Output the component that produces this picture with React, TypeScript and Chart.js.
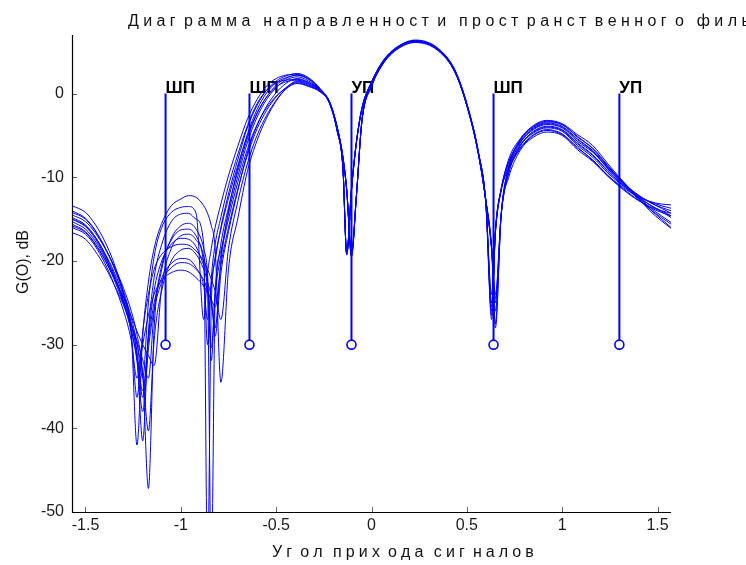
import React, { useEffect, useRef } from 'react';
import { Chart, registerables } from 'chart.js';

Chart.register(...registerables);

// Angle grid (rad) shared by every pattern curve
const ANGLES = [
  -1.571, -1.5, -1.45, -1.4, -1.35, -1.3, -1.26, -1.23, -1.2, -1.17, -1.14,
  -1.1, -1.05, -1.0, -0.96, -0.92, -0.88, -0.86, -0.84, -0.82, -0.79,
  -0.75, -0.7, -0.65, -0.6, -0.55, -0.5, -0.45, -0.39, -0.33, -0.27,
  -0.22, -0.18, -0.15, -0.13, -0.105, -0.08, -0.05, 0.0, 0.06, 0.13,
  0.23, 0.35, 0.44, 0.51, 0.56, 0.6, 0.63, 0.65, 0.68, 0.72,
  0.78, 0.85, 0.92, 1.0, 1.08, 1.16, 1.24, 1.3, 1.38, 1.46,
  1.52, 1.571,
];

// Gain (dB) of each realisation of the pattern
const G1 = [
  -13.4, -14.2, -15.6, -17.6, -20.3, -24.0, -28.5, -42.0, -29.0, -22.5, -18.5,
  -15.5, -13.4, -12.6, -12.2, -12.4, -13.4, -14.3, -15.8, -18.5, -34.5,
  -21.0, -14.8, -9.2, -5.6, -2.9, -0.9, 0.5, 1.3, 0.9, 0.25,
  -1.1, -4.4, -8.8, -19.2, -11.5, -6.0, -1.8, 1.3, 3.8, 5.4,
  6.3, 5.3, 2.6, -2.1, -7.0, -13.2, -24.0, -16.5, -11.5, -7.8,
  -5.4, -3.8, -3.2, -3.6, -4.9, -6.2, -8.4, -10.0, -12.0, -14.0,
  -15.2, -16.1,
];
const G2 = [
  -14.0, -14.9, -16.3, -18.3, -20.8, -24.0, -27.5, -31.5, -41.5, -28.5, -22.0,
  -18.0, -15.3, -14.4, -14.3, -15.0, -18.0, -57.0, -25.0, -20.0, -16.0,
  -12.0, -7.8, -4.0, -1.4, 0.4, 1.5, 2.1, 2.4, 1.9, 0.6,
  -1.0, -4.0, -7.6, -11.5, -19.4, -12.5, -3.2, 0.9, 3.6, 5.3,
  6.2, 5.2, 2.5, -2.2, -7.1, -12.8, -18.5, -28.0, -14.5, -8.8,
  -5.6, -4.0, -3.4, -3.7, -5.2, -6.5, -8.6, -10.1, -11.9, -13.6,
  -14.6, -15.4,
];
const G3 = [
  -14.5, -15.3, -16.6, -18.4, -20.6, -23.3, -26.0, -28.8, -33.5, -47.2, -28.0,
  -21.0, -17.3, -15.8, -15.5, -16.2, -18.5, -21.5, -31.9, -23.5, -18.0,
  -13.6, -9.2, -5.3, -2.4, -0.4, 1.0, 1.8, 2.2, 1.7, 0.55,
  -1.1, -4.5, -8.9, -19.0, -11.4, -5.9, -1.7, 1.4, 3.9, 5.5,
  6.3, 5.3, 2.7, -2.0, -6.9, -13.1, -26.0, -16.3, -11.4, -8.1,
  -5.7, -4.1, -3.5, -3.9, -5.4, -6.8, -8.8, -10.2, -11.9, -13.3,
  -14.1, -14.8,
];
const G4 = [
  -15.0, -15.8, -17.1, -19.0, -21.3, -24.3, -27.6, -30.8, -36.3, -29.0, -23.5,
  -20.0, -18.0, -17.3, -17.4, -18.3, -20.5, -23.5, -57.0, -24.5, -18.8,
  -14.3, -9.8, -5.8, -2.8, -0.7, 0.7, 1.6, 2.0, 1.5, 0.5,
  -1.0, -4.1, -7.7, -11.6, -19.0, -12.4, -3.3, 0.9, 3.6, 5.3,
  6.2, 5.2, 2.5, -2.2, -7.1, -12.9, -18.6, -25.0, -14.4, -9.1,
  -5.9, -4.3, -3.7, -4.1, -5.7, -7.0, -8.9, -10.3, -11.8, -13.0,
  -13.7, -14.3,
];
const G5 = [
  -15.3, -16.2, -17.6, -19.5, -21.9, -24.8, -27.5, -30.0, -33.5, -40.3, -29.5,
  -23.5, -20.0, -18.7, -18.5, -19.2, -21.0, -22.5, -24.5, -29.0, -21.5,
  -16.5, -11.5, -7.0, -3.8, -1.5, 0.1, 1.2, 1.8, 1.35, 0.45,
  -1.2, -4.4, -8.8, -19.1, -11.6, -6.1, -1.9, 1.2, 3.7, 5.4,
  6.3, 5.3, 2.6, -2.1, -7.0, -13.3, -27.0, -16.6, -11.6, -8.5,
  -6.1, -4.5, -3.9, -4.3, -5.9, -7.3, -9.2, -10.5, -11.9, -13.0,
  -13.6, -14.0,
];
const G6 = [
  -15.6, -16.5, -17.9, -19.8, -22.2, -25.2, -28.3, -31.5, -35.5, -29.5, -25.0,
  -22.0, -20.3, -19.7, -19.8, -20.8, -23.0, -27.0, -22.8, -19.5, -16.2,
  -12.5, -8.5, -5.0, -2.3, -0.4, 0.8, 1.4, 1.6, 1.2, 0.4,
  -1.0, -4.0, -7.5, -11.4, -19.2, -12.6, -3.2, 0.9, 3.6, 5.3,
  6.2, 5.2, 2.5, -2.2, -7.1, -12.8, -18.4, -24.5, -14.6, -9.5,
  -6.3, -4.7, -4.1, -4.5, -6.2, -7.6, -9.5, -10.7, -12.0, -12.9,
  -13.4, -13.7,
];
const G7 = [
  -16.0, -16.8, -18.2, -20.2, -22.8, -26.0, -29.5, -34.0, -30.0, -26.5, -24.0,
  -22.3, -21.4, -21.1, -21.3, -22.0, -23.0, -23.8, -24.6, -25.5, -20.5,
  -16.0, -11.3, -7.3, -4.2, -2.0, -0.4, 0.7, 1.4, 1.0, 0.3,
  -1.2, -4.5, -8.9, -19.3, -11.5, -6.0, -1.8, 1.3, 3.8, 5.4,
  6.3, 5.3, 2.6, -2.1, -7.0, -13.2, -26.5, -16.5, -11.5, -8.9,
  -6.5, -4.9, -4.3, -4.8, -6.5, -7.9, -9.8, -10.9, -12.1, -12.9,
  -13.2, -13.3,
];
const G8 = [
  -16.6, -17.4, -18.8, -20.6, -22.8, -25.3, -27.6, -29.6, -31.8, -34.0, -26.0,
  -20.5, -17.5, -16.3, -16.2, -17.0, -19.5, -22.5, -30.4, -24.0, -19.3,
  -15.0, -10.5, -6.6, -3.7, -1.7, -0.3, 0.6, 1.2, 0.85, 0.2,
  -1.1, -4.1, -7.6, -11.5, -19.0, -12.4, -3.1, 1.0, 3.7, 5.3,
  6.2, 5.2, 2.5, -2.2, -7.1, -12.8, -18.5, -27.5, -14.5, -10.0,
  -6.8, -5.2, -4.6, -5.0, -6.7, -8.1, -9.9, -11.1, -12.5, -13.5,
  -14.0, -14.3,
];
const G9 = [
  -14.8, -15.7, -17.1, -19.1, -21.6, -24.8, -28.2, -32.0, -38.0, -30.5, -25.8,
  -22.5, -20.8, -20.2, -20.3, -21.0, -22.3, -23.5, -25.0, -28.0, -20.0,
  -14.0, -8.8, -4.8, -1.9, 0.1, 1.3, 1.9, 2.2, 1.7, 0.55,
  -1.1, -4.3, -8.7, -19.0, -11.4, -5.9, -1.7, 1.4, 3.9, 5.5,
  6.4, 5.4, 2.7, -2.0, -6.9, -13.1, -25.5, -16.4, -11.4, -8.2,
  -5.8, -4.2, -3.6, -4.0, -5.5, -6.9, -9.0, -10.4, -12.2, -13.8,
  -14.8, -15.6,
];
const G10 = [
  -15.8, -16.6, -18.0, -19.8, -22.0, -24.5, -26.6, -28.4, -30.0, -31.3, -32.5,
  -23.0, -18.5, -17.0, -16.8, -17.5, -20.5, -30.0, -22.0, -18.0, -14.8,
  -11.0, -7.2, -3.8, -1.2, 0.4, 1.3, 1.6, 1.7, 1.3, 0.45,
  -1.0, -4.1, -7.7, -11.6, -19.5, -12.6, -3.3, 0.8, 3.5, 5.2,
  6.1, 5.1, 2.4, -2.3, -7.2, -12.9, -18.6, -26.0, -14.6, -9.4,
  -6.2, -4.6, -4.0, -4.4, -6.0, -7.4, -9.3, -10.6, -12.1, -13.3,
  -14.0, -14.6,
];
const G11 = [
  -14.2, -15.0, -16.4, -18.3, -20.7, -23.7, -26.8, -29.8, -34.0, -25.0, -19.5,
  -16.0, -14.2, -13.6, -13.5, -14.3, -27.0, -21.5, -18.5, -16.0, -13.2,
  -9.8, -6.2, -3.0, -0.7, 0.9, 1.8, 2.2, 2.3, 1.8, 0.6,
  -1.1, -4.4, -8.9, -19.1, -11.5, -6.0, -1.8, 1.3, 3.8, 5.4,
  6.3, 5.3, 2.6, -2.1, -7.0, -12.8, -18.4, -24.0, -14.4, -8.7,
  -5.5, -3.9, -3.3, -3.7, -5.1, -6.6, -8.7, -10.2, -12.0, -13.8,
  -15.0, -16.0,
];
const G12 = [
  -15.0, -15.9, -17.3, -19.3, -21.9, -25.0, -28.8, -36.3, -28.5, -24.0, -21.0,
  -19.2, -18.3, -18.0, -18.1, -18.8, -20.0, -21.0, -22.2, -23.6, -27.0,
  -18.5, -12.8, -8.3, -5.0, -2.6, -0.8, 0.6, 1.5, 1.1, 0.35,
  -1.0, -4.0, -7.6, -11.5, -19.3, -12.5, -3.2, 0.9, 3.6, 5.3,
  6.2, 5.2, 2.5, -2.2, -7.1, -13.2, -25.0, -16.5, -11.5, -9.0,
  -6.6, -5.0, -4.4, -4.9, -6.4, -8.0, -9.8, -11.0, -12.4, -13.6,
  -14.2, -14.6,
];
const CURVES = [G1, G2, G3, G4, G5, G6, G7, G8, G9, G10, G11, G12];

// Signal directions (stems)
const STEM_X = [-1.08, -0.64, -0.105, 0.64, 1.3];
const STEM_LABELS = ['ШП', 'ШП', 'УП', 'ШП', 'УП'];
const STEM_TOP = 0;
const STEM_BOTTOM = -30;

const X_TICKS = [-1.5, -1, -0.5, 0, 0.5, 1, 1.5];
const Y_TICKS = [-50, -40, -30, -20, -10, 0];
const X_MIN = -Math.PI / 2;
const X_MAX = Math.PI / 2;
const Y_MIN = -50;
const Y_MAX = 7;

const TITLE = 'Диаграмма направленности пространственного фильтра';
const X_TITLE = 'Угол прихода сигналов';
const Y_TITLE = 'G(O), dB';

const FONT = '"Liberation Sans", Arial, Helvetica, sans-serif';
const BLUE = '#0000ff';

function drawSpaced(ctx: CanvasRenderingContext2D, text: string, x: number, y: number, spacing: number, extra: number, spaceGap: number) {
  let cx = x;
  for (const ch of text) {
    if (ch === ' ') {
      cx += ctx.measureText(ch).width + spaceGap;
      continue;
    }
    ctx.fillText(ch, cx, y);
    cx += ctx.measureText(ch).width + spacing;
    if (ch === 'г' || ch === 'т' || ch === 'х') cx += extra;
  }
}

const decor = {
  id: 'decor',
  beforeDatasetsDraw(chart: any) {
    const { ctx, scales } = chart;
    const x = scales.x;
    const y = scales.y;
    ctx.save();
    ctx.fillStyle = '#000';
    ctx.font = `bold 17px ${FONT}`;
    ctx.textAlign = 'left';
    ctx.textBaseline = 'alphabetic';
    STEM_X.forEach((v, i) => {
      ctx.fillText(STEM_LABELS[i], x.getPixelForValue(v), y.getPixelForValue(STEM_TOP) - 1);
    });
    ctx.restore();
  },
  afterDatasetsDraw(chart: any) {
    const { ctx, chartArea: a, scales } = chart;
    const x = scales.x;
    const y = scales.y;
    ctx.save();
    // ticks (inward)
    ctx.strokeStyle = '#666';
    ctx.lineWidth = 1;
    ctx.beginPath();
    for (const v of X_TICKS) {
      const px = Math.round(x.getPixelForValue(v)) + 0.5;
      ctx.moveTo(px, a.bottom);
      ctx.lineTo(px, a.bottom - 5);
    }
    for (const v of Y_TICKS) {
      const py = Math.round(y.getPixelForValue(v)) + 0.5;
      ctx.moveTo(a.left, py);
      ctx.lineTo(a.left + 5, py);
    }
    ctx.stroke();
    // axes
    ctx.strokeStyle = '#000';
    ctx.lineWidth = 1.2;
    ctx.beginPath();
    ctx.moveTo(a.left + 0.5, a.top);
    ctx.lineTo(a.left + 0.5, a.bottom + 0.5);
    ctx.lineTo(a.right, a.bottom + 0.5);
    ctx.stroke();

    // titles
    ctx.fillStyle = '#111';
    ctx.font = `16px ${FONT}`;
    ctx.textAlign = 'left';
    ctx.textBaseline = 'alphabetic';
    drawSpaced(ctx, TITLE, 128, 26, 4.4, 4, 4);
    drawSpaced(ctx, X_TITLE, 272, 557, 4.1, 4, 2);
    ctx.translate(24, 262);
    ctx.rotate(-Math.PI / 2);
    ctx.textAlign = 'center';
    ctx.textBaseline = 'middle';
    ctx.fillText(Y_TITLE, 0, 0);
    ctx.restore();
  },
};

export default function App() {
  const ref = useRef<HTMLCanvasElement | null>(null);

  useEffect(() => {
    if (!ref.current) return;
    const datasets: any[] = CURVES.map((g) => ({
      data: ANGLES.map((a, i) => ({ x: a, y: g[i] })),
      borderColor: BLUE,
      borderWidth: 1,
      pointRadius: 0,
      cubicInterpolationMode: 'monotone',
      fill: false,
    }));
    STEM_X.forEach((v) => {
      datasets.push({
        data: [
          { x: v, y: STEM_TOP },
          { x: v, y: STEM_BOTTOM },
        ],
        borderColor: BLUE,
        borderWidth: 2,
        pointRadius: [0, 4.5],
        pointBorderWidth: 1.6,
        pointBorderColor: BLUE,
        pointBackgroundColor: '#ffffff',
        pointStyle: 'circle',
        tension: 0,
        fill: false,
      });
    });

    const chart = new Chart(ref.current, {
      type: 'line',
      data: { datasets },
      plugins: [decor],
      options: {
        animation: false,
        responsive: false,
        devicePixelRatio: 1,
        layout: { padding: { top: 35, right: 75, left: 0, bottom: 0 } },
        plugins: { legend: { display: false }, tooltip: { enabled: false }, title: { display: false } },
        scales: {
          x: {
            type: 'linear',
            min: X_MIN,
            max: X_MAX,
            grid: { display: false, drawTicks: false },
            border: { display: false },
            afterBuildTicks: (s: any) => {
              s.ticks = X_TICKS.map((v) => ({ value: v }));
            },
            afterFit: (s: any) => {
              s.height = 53;
            },
            ticks: {
              autoSkip: false,
              maxRotation: 0,
              padding: 4,
              color: '#1a1a1a',
              font: { family: FONT, size: 16 },
              callback: (v: any) => String(v),
            },
          },
          y: {
            type: 'linear',
            min: Y_MIN,
            max: Y_MAX,
            grid: { display: false, drawTicks: false },
            border: { display: false },
            afterBuildTicks: (s: any) => {
              s.ticks = Y_TICKS.map((v) => ({ value: v }));
            },
            afterFit: (s: any) => {
              s.width = 72;
            },
            ticks: {
              padding: 8,
              color: '#1a1a1a',
              font: { family: FONT, size: 16 },
              callback: (v: any) => String(v),
            },
          },
        },
      },
    });
    return () => chart.destroy();
  }, []);

  return (
    <div style={{ position: 'fixed', left: 0, top: 0, width: 746, height: 565, background: '#fff' }}>
      <canvas ref={ref} width={746} height={565} style={{ display: 'block' }} />
    </div>
  );
}
